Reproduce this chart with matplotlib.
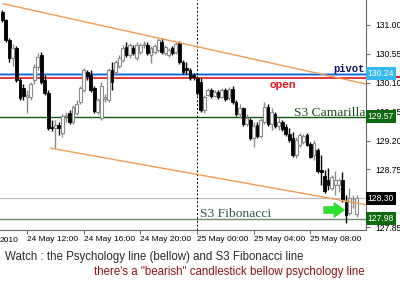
import matplotlib
matplotlib.use('Agg')
import matplotlib.pyplot as plt
import numpy as np
import pandas as pd
from matplotlib.patches import Rectangle
import matplotlib.transforms as mtrans

# ---------------- data (M15, 24-25 May 2010) ----------------
opens = [131.20, 131.08, 130.77, 130.49, 130.64, 130.14, 130.02, 129.88, 129.88, 130.14,
         130.35, 130.53, 130.14, 129.94, 129.41, 129.40, 129.44, 129.32, 129.58, 129.63,
         129.49, 129.63, 129.80, 129.99, 130.27, 130.22, 130.02, 129.65, 129.55, 129.85,
         129.83, 130.30, 130.27, 130.36, 130.45, 130.66, 130.53, 130.64, 130.49, 130.58,
         130.69, 130.69, 130.53, 130.58, 130.61, 130.74, 130.56, 130.53, 130.64, 130.58,
         130.72, 130.42, 130.33, 130.30, 130.22, 130.17, 130.11, 129.68, 129.91, 129.99,
         129.89, 129.96, 129.88, 129.99, 129.86, 130.00, 129.80, 129.61, 129.71, 129.46,
         129.52, 129.24, 129.44, 129.27, 129.49, 129.72, 129.46, 129.61, 129.43, 129.49,
         129.41, 129.30, 129.24, 128.98, 129.13, 129.18, 129.29, 129.15, 128.98, 129.05,
         128.74, 128.65, 128.58, 128.46, 128.51, 128.51, 128.58, 128.24, 128.07, 128.29,
         128.06]
highs = [131.23, 131.09, 130.80, 130.70, 130.67, 130.17, 130.08, 129.99, 130.11, 130.39,
         130.56, 130.58, 130.22, 129.99, 129.52, 129.52, 129.49, 129.61, 129.65, 129.68,
         129.75, 129.83, 130.05, 130.33, 130.30, 130.30, 130.05, 129.86, 130.11, 129.93,
         130.33, 130.42, 130.45, 130.53, 130.69, 130.74, 130.72, 130.69, 130.74, 130.72,
         130.75, 130.74, 130.67, 130.70, 130.80, 130.80, 130.69, 130.64, 130.67, 130.74,
         130.75, 130.45, 130.42, 130.33, 130.25, 130.21, 130.17, 129.91, 130.02, 130.02,
         129.99, 129.99, 130.02, 130.02, 130.03, 130.05, 129.83, 129.77, 129.72, 129.61,
         129.55, 129.49, 129.49, 129.55, 129.80, 129.77, 129.71, 129.65, 129.55, 129.52,
         129.46, 129.40, 129.33, 129.26, 129.32, 129.30, 129.32, 129.18, 129.21, 129.08,
         128.98, 128.74, 128.77, 128.66, 128.73, 128.62, 128.71, 128.35, 128.46, 128.35,
         128.35]
lows = [131.05, 130.74, 130.42, 130.36, 130.11, 129.83, 129.83, 129.63, 129.83, 130.08,
        130.30, 130.08, 129.91, 129.37, 129.35, 129.08, 129.29, 129.26, 129.49, 129.46,
        129.46, 129.60, 129.77, 129.96, 130.14, 129.96, 129.63, 129.61, 129.52, 129.80,
        129.80, 129.99, 130.22, 130.33, 130.42, 130.50, 130.49, 130.53, 130.45, 130.55,
        130.64, 130.53, 130.41, 130.55, 130.58, 130.55, 130.53, 130.50, 130.53, 130.55,
        130.39, 130.24, 130.24, 130.14, 130.14, 129.91, 129.65, 129.63, 129.89, 129.86,
        129.88, 129.85, 129.86, 129.82, 129.83, 129.77, 129.58, 129.55, 129.43, 129.43,
        129.21, 129.10, 129.24, 129.24, 129.46, 129.43, 129.37, 129.40, 129.37, 129.35,
        129.27, 129.18, 128.94, 128.93, 129.10, 129.15, 129.12, 128.93, 128.90, 128.69,
        128.51, 128.38, 128.43, 128.43, 128.35, 128.40, 128.24, 127.92, 128.04, 128.15,
        128.01]
closes = [131.08, 130.77, 130.49, 130.64, 130.14, 129.86, 129.89, 129.91, 130.08, 130.35,
          130.50, 130.11, 129.94, 129.40, 129.40, 129.44, 129.40, 129.58, 129.60, 129.49,
          129.72, 129.77, 130.02, 130.30, 130.21, 129.99, 129.66, 129.83, 130.05, 129.88,
          130.30, 130.11, 130.42, 130.49, 130.64, 130.53, 130.69, 130.56, 130.69, 130.69,
          130.70, 130.56, 130.64, 130.67, 130.77, 130.58, 130.66, 130.61, 130.56, 130.70,
          130.42, 130.27, 130.30, 130.17, 130.19, 129.94, 129.68, 129.88, 129.99, 129.89,
          129.96, 129.88, 129.99, 129.85, 130.00, 129.80, 129.61, 129.71, 129.46, 129.55,
          129.24, 129.43, 129.27, 129.52, 129.72, 129.46, 129.65, 129.43, 129.49, 129.38,
          129.30, 129.21, 128.98, 129.21, 129.29, 129.27, 129.13, 128.94, 129.16, 128.73,
          128.71, 128.41, 128.51, 128.63, 128.58, 128.58, 128.27, 128.04, 128.30, 128.29,
          128.30]
times = pd.date_range('2010-05-24 10:15', periods=len(opens), freq='15min')

x_tick_times = ['2010-05-24 12:00', '2010-05-24 16:00', '2010-05-24 20:00',
                '2010-05-25 00:00', '2010-05-25 04:00', '2010-05-25 08:00']
x_tick_labels = ['24 May 12:00', '24 May 16:00', '24 May 20:00',
                 '25 May 00:00', '25 May 04:00', '25 May 08:00']
first_label = '2010'
y_ticks = [131.00, 130.55, 130.10, 129.65, 129.20, 128.75, 128.30, 127.85]

pivot = 130.24
open_price = 130.18
s3_camarilla = 129.57
bid = 128.30
s3_fibonacci = 127.98

upper_trend_times = ['2010-05-24 10:20', '2010-05-25 11:55']
upper_trend_prices = [131.33, 130.08]
lower_trend_times = ['2010-05-24 13:41', '2010-05-25 11:55']
lower_trend_prices = [129.08, 128.20]

# ---------------- helpers ----------------
base = pd.Timestamp('2010-05-24')
def hrs(ts):
    return (pd.to_datetime(ts) - base) / pd.Timedelta(hours=1)

t = np.asarray(hrs(times), dtype=float)

W, H = 400, 285
fig = plt.figure(figsize=(W / 100, H / 100), dpi=100)
fig.patch.set_facecolor('white')
ax_l, ax_b, ax_w, ax_h = 0, 55, 366, 230
ax = fig.add_axes([ax_l / W, ax_b / H, ax_w / W, ax_h / H])
ax.set_facecolor('white')

ax.set_xlim(hrs('2010-05-24 10:05:40'), hrs('2010-05-25 11:55'))
ax.set_ylim(127.806, 131.389)

# candles
bw = 0.2
for ti, o, h, l, c in zip(t, opens, highs, lows, closes):
    bear = c < o
    wick_col = 'black' if bear else '#8a8a8a'
    ax.plot([ti, ti], [l, h], color=wick_col, lw=1.0, zorder=3, solid_capstyle='butt')
    lo, hi = min(o, c), max(o, c)
    hgt = max(hi - lo, 0.006)
    if bear:
        ax.add_patch(Rectangle((ti - bw / 2, lo), bw, hgt, facecolor='black',
                               edgecolor='black', lw=0.6, zorder=4))
    else:
        ax.add_patch(Rectangle((ti - bw / 2, lo), bw, hgt, facecolor='white',
                               edgecolor='#8a8a8a', lw=0.8, zorder=4))

# horizontal levels
ax.axhline(pivot, color='#7ab8f0', lw=2.0, zorder=2)
ax.axhline(pivot - 0.008, color='#1c5fd8', lw=0.7, zorder=2)
ax.axhline(open_price, color='#e8141c', lw=1.2, zorder=2)
ax.axhline(s3_camarilla, color='#0e5a0e', lw=1.0, zorder=2)
ax.axhline(bid, color='#c8b4c8', lw=0.8, zorder=2)
ax.axhline(s3_fibonacci, color='#6f8a6f', lw=1.0, zorder=2)

# day separator
ax.axvline(hrs('2010-05-25 00:00'), color='black', lw=0.7, ls=(0, (2, 2)), zorder=2)

# trend lines
ax.plot(hrs(upper_trend_times), upper_trend_prices, color='#f39a50', lw=1.0, zorder=5)
ax.plot(hrs(lower_trend_times), lower_trend_prices, color='#f39a50', lw=1.0, zorder=5)

# axes styling
for s in ['top', 'left']:
    ax.spines[s].set_visible(False)
for s in ['right', 'bottom']:
    ax.spines[s].set_color('#666666')
    ax.spines[s].set_linewidth(0.8)

ax.yaxis.tick_right()
ax.set_yticks(y_ticks)
# the 128.30 tick label is fully covered by the bid price box in the original
ax.set_yticklabels(['' if abs(v - bid) < 1e-9 else f'{v:.2f}' for v in y_ticks],
                   family='Liberation Sans', fontsize=6.2)
ax.tick_params(axis='y', length=3, pad=3.5, color='#666666', width=0.7)

ax.set_xticks(hrs(x_tick_times))
ax.set_xticklabels(x_tick_labels, family='Liberation Sans', fontsize=6.0, ha='left')
ax.tick_params(axis='x', length=3, pad=1.5, color='#666666', width=0.7, direction='out')

# partial first date label
ax.text(0.0, -0.03, first_label, transform=ax.transAxes, ha='left', va='top',
        family='Liberation Sans', fontsize=6.0, clip_on=False)

# right-side price boxes
trans = mtrans.blended_transform_factory(ax.transAxes, ax.transData)
def price_box(val, fc, tc='white'):
    ax.text(1.004, val, f'{val:.2f}', transform=trans, ha='left', va='center',
            family='Liberation Sans', fontsize=6.2, color=tc, zorder=10, clip_on=False,
            bbox=dict(boxstyle='square,pad=0.22', fc=fc, ec='none'))

ax.add_patch(Rectangle((1.0, open_price - 0.012), 34 / ax_w, 0.03, transform=trans,
                       facecolor='#e8141c', edgecolor='none', clip_on=False, zorder=9))
price_box(pivot, '#35b8f0')
price_box(s3_camarilla, '#0e6a0e')
price_box(bid, 'black')
price_box(s3_fibonacci, '#0e6a0e')

# in-chart labels
def px(x, y):
    return x / ax_w, 1 - y / ax_h

ax.text(*px(333, 72), 'pivot', transform=ax.transAxes, family='Liberation Mono',
        fontweight='bold', fontsize=7.6, color='#101070', va='baseline', zorder=8)
ax.text(*px(270, 88), 'open', transform=ax.transAxes, family='Liberation Mono',
        fontweight='bold', fontsize=8.0, color='#e8141c', va='baseline', zorder=8)
ax.text(*px(365, 116), 'S3 Camarilla', transform=ax.transAxes, family='Liberation Serif',
        fontsize=9.7, color='#1e4a1e', ha='right', va='baseline', zorder=8)
ax.text(*px(200, 217), 'S3 Fibonacci', transform=ax.transAxes, family='Liberation Serif',
        fontsize=9.7, color='#2a5a48', ha='left', va='baseline', zorder=8)

# green arrow
ax.annotate('', xy=px(344, 210), xytext=px(324, 210), xycoords='axes fraction',
            textcoords='axes fraction',
            arrowprops=dict(arrowstyle='simple,head_length=0.7,head_width=1.0,tail_width=0.45',
                            color='#2ee02e', mutation_scale=10, shrinkA=0, shrinkB=0),
            zorder=9)

# bottom notes
fig.text(5 / W, 1 - 257 / H, 'Watch : the Psychology line (bellow) and S3 Fibonacci line',
         family='Liberation Sans', fontsize=8.3, color='#2a2a2a', ha='left', va='center')
fig.text(365 / W, 1 - 272 / H, 'there\'s a "bearish" candlestick bellow psychology line',
         family='Liberation Sans', fontsize=8.3, color='#8b1515', ha='right', va='center')

fig.savefig('out.png', dpi=100, facecolor='white')
